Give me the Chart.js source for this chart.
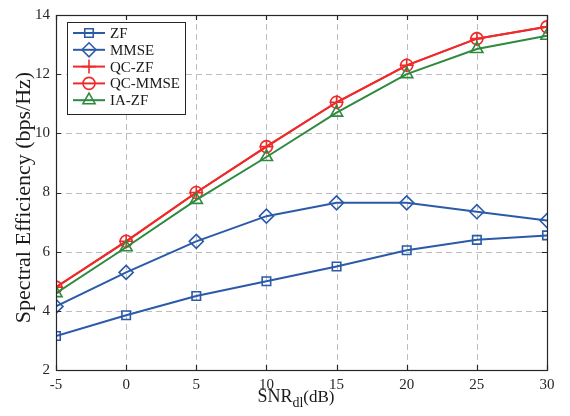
<!DOCTYPE html>
<html>
<head>
<meta charset="utf-8">
<script src="https://cdn.jsdelivr.net/npm/chart.js@4/dist/chart.umd.min.js"></script>
<style>
  html, body { margin: 0; padding: 0; background: #fff; }
  #wrap { width: 570px; height: 416px; position: relative; }
</style>
</head>
<body>
<div id="wrap"><canvas id="chart" width="570" height="416"></canvas></div>
<script>
// data
const snr = [-5, 0, 5, 10, 15, 20, 25, 30]
const zf = [3.15, 3.85, 4.5, 5.0, 5.5, 6.05, 6.4, 6.55]
const mmse = [4.15, 5.3, 6.35, 7.2, 7.65, 7.65, 7.35, 7.05]
const qcZf = [4.8, 6.35, 8.0, 9.55, 11.05, 12.3, 13.2, 13.6]
const qcMmse = [4.8, 6.35, 8.0, 9.55, 11.05, 12.3, 13.2, 13.6]
const iaZf = [4.6, 6.15, 7.75, 9.2, 10.7, 12.0, 12.85, 13.3]
const seriesNames = ['ZF', 'MMSE', 'QC-ZF', 'QC-MMSE', 'IA-ZF']
const xTicks = [-5, 0, 5, 10, 15, 20, 25, 30]
const yTicks = [2, 4, 6, 8, 10, 12, 14]

const BLUE = '#2b5aa8'
const RED = '#ee2b2b'
const GREEN = '#2e8a3e'
const SERIF = '"Liberation Serif", "Times New Roman", serif'

function pts(ys){
    return snr.map((x, i) => ({x: x, y: ys[i]}))
}

function makeSet(label, ys, color, style, radius, order){
    return {
        label: label,
        data: pts(ys),
        borderColor: color,
        backgroundColor: 'rgba(0,0,0,0)',
        borderWidth: 2,
        pointStyle: style,
        pointRadius: radius,
        pointHoverRadius: radius,
        pointBorderWidth: 1.6,
        pointBorderColor: color,
        pointBackgroundColor: 'rgba(0,0,0,0)',
        tension: 0,
        order: order,
    }
}

const datasets = [
    makeSet(seriesNames[0], zf, BLUE, 'rect', 6, 4),
    makeSet(seriesNames[1], mmse, BLUE, 'rectRot', 7, 3),
    makeSet(seriesNames[2], qcZf, RED, 'cross', 7, 2),
    makeSet(seriesNames[3], qcMmse, RED, 'circle', 6, 1),
    makeSet(seriesNames[4], iaZf, GREEN, 'triangle', 7, 0),
]

// dashed grid under the lines
const dashGrid = {
    id: 'dashGrid',
    beforeDatasetsDraw(chart){
        const ctx = chart.ctx
        const a = chart.chartArea
        const xs = chart.scales.x
        const ys = chart.scales.y
        ctx.save()
        ctx.strokeStyle = '#bdbdbd'
        ctx.lineWidth = 1
        ctx.setLineDash([6, 4])
        ctx.beginPath()
        xTicks.slice(1, -1).forEach(t => {
            const px = Math.round(xs.getPixelForValue(t)) + 0.5
            ctx.moveTo(px, a.bottom); ctx.lineTo(px, a.top)
        })
        yTicks.slice(1, -1).forEach(t => {
            const py = Math.round(ys.getPixelForValue(t)) + 0.5
            ctx.moveTo(a.left, py); ctx.lineTo(a.right, py)
        })
        ctx.stroke()
        ctx.restore()
    }
}

// axes box, inward ticks, legend, axis titles
const decor = {
    id: 'decor',
    afterDraw(chart){
        const ctx = chart.ctx
        const a = chart.chartArea
        const xs = chart.scales.x
        const ys = chart.scales.y
        ctx.save()
        ctx.strokeStyle = '#262626'
        ctx.lineWidth = 1.2
        ctx.beginPath()
        xTicks.forEach(t => {
            const px = Math.round(xs.getPixelForValue(t)) + 0.5
            ctx.moveTo(px, a.bottom); ctx.lineTo(px, a.bottom - 5)
            ctx.moveTo(px, a.top); ctx.lineTo(px, a.top + 5)
        })
        yTicks.forEach(t => {
            const py = Math.round(ys.getPixelForValue(t)) + 0.5
            ctx.moveTo(a.left, py); ctx.lineTo(a.left + 5, py)
            ctx.moveTo(a.right, py); ctx.lineTo(a.right - 5, py)
        })
        ctx.stroke()
        ctx.strokeRect(a.left + 0.5, a.top + 0.5, a.right - a.left, a.bottom - a.top)

        // legend
        const lx = 67, ly = 22, lw = 118, lh = 92
        ctx.fillStyle = '#fff'
        ctx.fillRect(lx, ly, lw, lh)
        ctx.strokeStyle = '#262626'
        ctx.lineWidth = 1
        ctx.strokeRect(lx + 0.5, ly + 0.5, lw, lh)
        chart.data.datasets.forEach((ds, i) => {
            const y = 33 + i * 16.8
            ctx.strokeStyle = ds.borderColor
            ctx.lineWidth = 2
            ctx.beginPath()
            ctx.moveTo(73, y); ctx.lineTo(105, y)
            ctx.stroke()
            ctx.lineWidth = 1.6
            ctx.fillStyle = 'rgba(0,0,0,0)'
            Chart.helpers.drawPoint(ctx, {pointStyle: ds.pointStyle, radius: ds.pointRadius, borderWidth: 1.6}, 89, y)
            ctx.fillStyle = '#1a1a1a'
            ctx.font = '15px ' + SERIF
            ctx.textAlign = 'left'
            ctx.textBaseline = 'middle'
            ctx.fillText(ds.label, 110, y + 1)
        })

        // y title
        ctx.fillStyle = '#1a1a1a'
        ctx.save()
        ctx.translate(24, (a.top + a.bottom) / 2 + 5)
        ctx.rotate(-Math.PI / 2)
        ctx.font = '22px ' + SERIF
        ctx.textAlign = 'center'
        ctx.textBaseline = 'middle'
        ctx.fillText('Spectral Efficiency (bps/Hz)', 0, 0)
        ctx.restore()

        // x title with subscript
        const main = '18px ' + SERIF, sub = '14px ' + SERIF, tail = '17px ' + SERIF
        ctx.textBaseline = 'alphabetic'
        ctx.textAlign = 'left'
        ctx.font = main; const w1 = ctx.measureText('SNR').width
        ctx.font = sub; const w2 = ctx.measureText('dl').width
        ctx.font = tail; const w3 = ctx.measureText('(dB)').width
        let x0 = 296 - (w1 + w2 + w3) / 2
        const base = 402
        ctx.font = main; ctx.fillText('SNR', x0, base); x0 += w1
        ctx.font = sub; ctx.fillText('dl', x0, base + 5); x0 += w2
        ctx.font = tail; ctx.fillText('(dB)', x0, base)
        ctx.restore()
    }
}

const chart = new Chart(document.getElementById('chart'), {
    type: 'line',
    data: {datasets: datasets},
    options: {
        responsive: false,
        animation: false,
        layout: {padding: {top: 7, right: 23, left: 0, bottom: 0}},
        plugins: {legend: {display: false}, tooltip: {enabled: false}},
        scales: {
            x: {
                type: 'linear',
                min: -5, max: 30,
                afterBuildTicks: (s) => { s.ticks = xTicks.map(v => ({value: v})) },
                afterFit: (s) => { s.height = 46 },
                grid: {display: false, drawTicks: false},
                border: {display: false},
                ticks: {color: '#262626', font: {family: SERIF, size: 15}, padding: 6, maxRotation: 0},
            },
            y: {
                min: 2, max: 14,
                afterBuildTicks: (s) => { s.ticks = yTicks.map(v => ({value: v})) },
                afterFit: (s) => { s.width = 56 },
                grid: {display: false, drawTicks: false},
                border: {display: false},
                ticks: {color: '#262626', font: {family: SERIF, size: 15}, padding: 6},
            },
        },
    },
    plugins: [dashGrid, decor],
})
</script>
</body>
</html>
